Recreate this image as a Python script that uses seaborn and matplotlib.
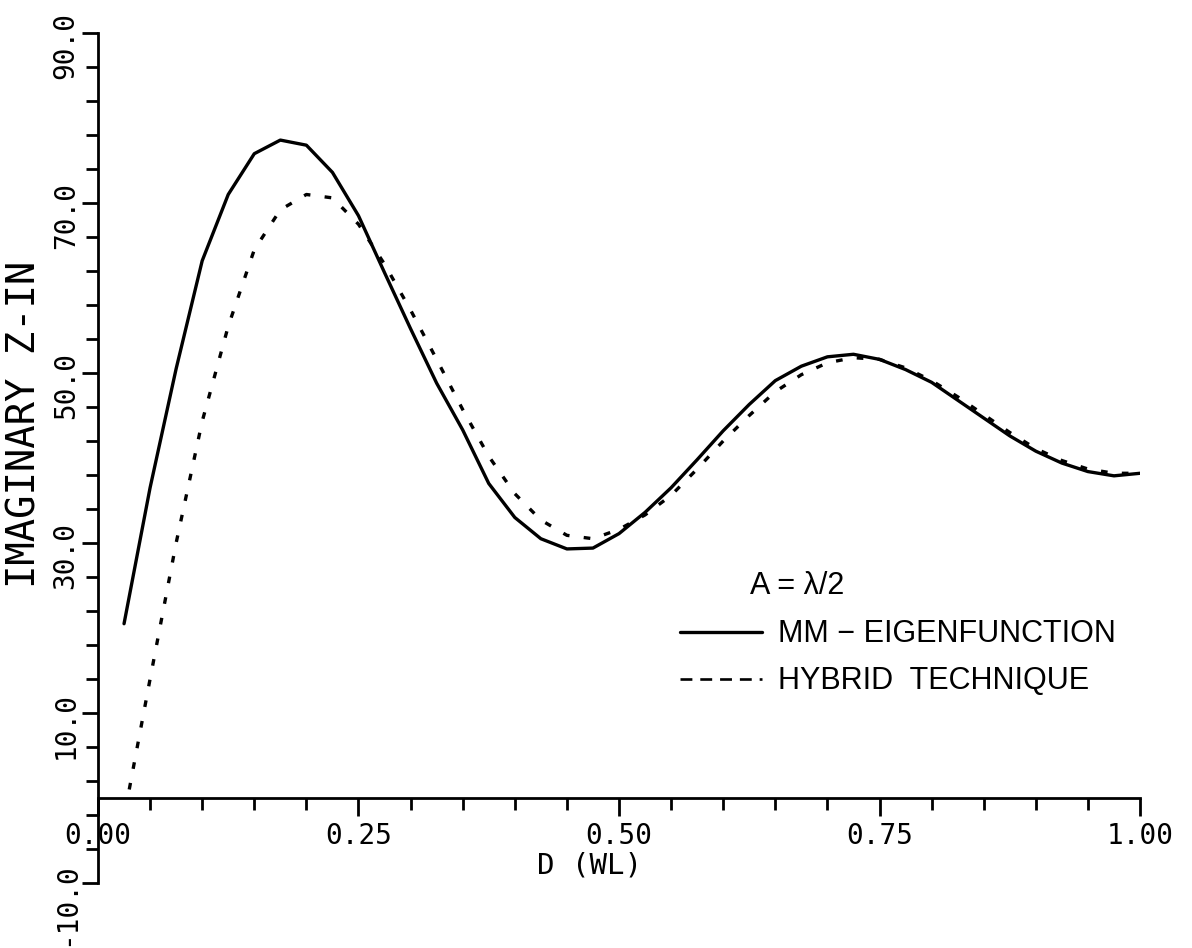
import numpy as np
import pandas as pd
import matplotlib
matplotlib.use("Agg")
import matplotlib.pyplot as plt
import matplotlib.transforms as mtransforms
from matplotlib.lines import Line2D
import seaborn as sns

# ------------------------------------------------------------
# data (D in wavelengths, imaginary Z-in)
# ------------------------------------------------------------
d_mm = [0.025, 0.05, 0.075, 0.10, 0.125, 0.15, 0.175, 0.20, 0.225, 0.25,
        0.275, 0.30, 0.325, 0.35, 0.375, 0.40, 0.425, 0.45, 0.475, 0.50,
        0.525, 0.55, 0.575, 0.60, 0.625, 0.65, 0.675, 0.70, 0.725, 0.75,
        0.775, 0.80, 0.825, 0.85, 0.875, 0.90, 0.925, 0.95, 0.975, 1.00]
z_mm = [20.5, 36.5, 50.5, 63.2, 71.0, 75.8, 77.4, 76.8, 73.6, 68.5,
        61.8, 55.2, 48.8, 43.3, 37.0, 33.0, 30.5, 29.3, 29.4, 31.1,
        33.6, 36.5, 39.8, 43.2, 46.3, 49.1, 50.8, 51.9, 52.2, 51.6,
        50.4, 48.9, 46.8, 44.7, 42.6, 40.8, 39.4, 38.4, 37.9, 38.2]

d_hyb = [0.03, 0.05, 0.075, 0.10, 0.125, 0.15, 0.175, 0.20, 0.225, 0.25,
         0.275, 0.30, 0.325, 0.35, 0.375, 0.40, 0.425, 0.45, 0.475, 0.50,
         0.525, 0.55, 0.575, 0.60, 0.625, 0.65, 0.675, 0.70, 0.725, 0.75,
         0.775, 0.80, 0.825, 0.85, 0.875, 0.90, 0.925, 0.95, 0.975, 1.00]
z_hyb = [1.0, 14.0, 30.0, 44.3, 55.5, 64.5, 69.2, 71.0, 70.6, 67.5,
         62.8, 57.4, 51.6, 45.7, 40.2, 35.8, 32.7, 30.9, 30.5, 31.6,
         33.3, 35.6, 38.7, 42.0, 45.0, 47.8, 49.8, 51.2, 51.8, 51.6,
         50.6, 49.1, 47.2, 45.1, 43.0, 41.1, 39.7, 38.7, 38.2, 38.2]

x_major = [0.00, 0.25, 0.50, 0.75, 1.00]
x_labels = ["0.00", "0.25", "0.50", "0.75", "1.00"]
y_major = [-10, 10, 30, 50, 70, 90]
y_labels = ["-10.0", "10.0", "30.0", "50.0", "70.0", "90.0"]

# ------------------------------------------------------------
# style
# ------------------------------------------------------------
sns.set_theme(style="white")
plt.rcParams["font.family"] = ["DejaVu Sans Mono"]
plt.rcParams["text.color"] = "black"
plt.rcParams["axes.labelcolor"] = "black"
plt.rcParams["xtick.color"] = "black"
plt.rcParams["ytick.color"] = "black"

fig = plt.figure(figsize=(11.92, 9.48), dpi=100)
ax = fig.add_axes([0.0822, 0.0686, 0.8742, 0.8966])

mm_df = pd.DataFrame({"D": d_mm, "Z": z_mm})
hyb_df = pd.DataFrame({"D": d_hyb, "Z": z_hyb})

sns.lineplot(data=mm_df, x="D", y="Z", ax=ax, color="black",
             linewidth=2.4, sort=False, estimator=None)
sns.lineplot(data=hyb_df, x="D", y="Z", ax=ax, color="black",
             linewidth=2.4, linestyle=(0, (2.0, 4.3)), sort=False,
             estimator=None)

ax.set_xlim(0, 1.0)
ax.set_ylim(-10, 90)

# axes frame: y axis at left, x axis through zero
for side in ["top", "right"]:
    ax.spines[side].set_visible(False)
ax.spines["bottom"].set_position(("data", 0))
for side in ["left", "bottom"]:
    ax.spines[side].set_color("black")
    ax.spines[side].set_linewidth(2.0)

ax.set_xticks(x_major)
ax.set_xticklabels(x_labels, fontsize=20)
ax.set_xticks(np.arange(0.05, 1.0, 0.05), minor=True)
ax.set_yticks(y_major)
ax.set_yticklabels(y_labels, fontsize=20, rotation=90,
                   rotation_mode="anchor", ha="right", va="baseline")
ax.set_yticks([v for v in np.arange(-10, 91, 4) if v not in y_major], minor=True)

ax.tick_params(axis="x", which="major", direction="out", length=13,
               width=2, color="black", pad=4, bottom=True)
ax.tick_params(axis="x", which="minor", direction="out", length=8.6,
               width=2, color="black", bottom=True)
ax.tick_params(axis="y", which="major", direction="out", length=11.5,
               width=2, color="black", pad=6, left=True)
ax.tick_params(axis="y", which="minor", direction="out", length=8.6,
               width=2, color="black", left=True)

# y labels sit a bit above their ticks
shift = mtransforms.ScaledTranslation(0, 0.21, fig.dpi_scale_trans)
for lbl in ax.get_yticklabels():
    lbl.set_transform(lbl.get_transform() + shift)

ax.set_xlabel("D (WL)", fontsize=21)
ax.xaxis.set_label_coords(0.472, 0.037)
ax.set_ylabel("IMAGINARY Z-IN", fontsize=28)
ax.yaxis.set_label_coords(-0.052, 0.539)

# legend with its heading
ax.text(0.6257, 0.34, "A = λ/2", transform=ax.transAxes, fontsize=22,
        family="Liberation Sans", ha="left", va="baseline")
handles = [Line2D([], [], color="black", linewidth=2.4),
           Line2D([], [], color="black", linewidth=1.9,
                  linestyle=(0, (4.5, 3.0)))]
ax.legend(handles=handles,
          labels=["MM \u2212 EIGENFUNCTION", "HYBRID  TECHNIQUE"],
          loc="upper left", bbox_to_anchor=(0.5585, 0.31), frameon=False,
          prop={"family": "Liberation Sans", "size": 22},
          handlelength=2.7, handletextpad=0.5, labelspacing=0.55,
          borderpad=0, borderaxespad=0)

fig.savefig("out.png", dpi=100, facecolor="white")
